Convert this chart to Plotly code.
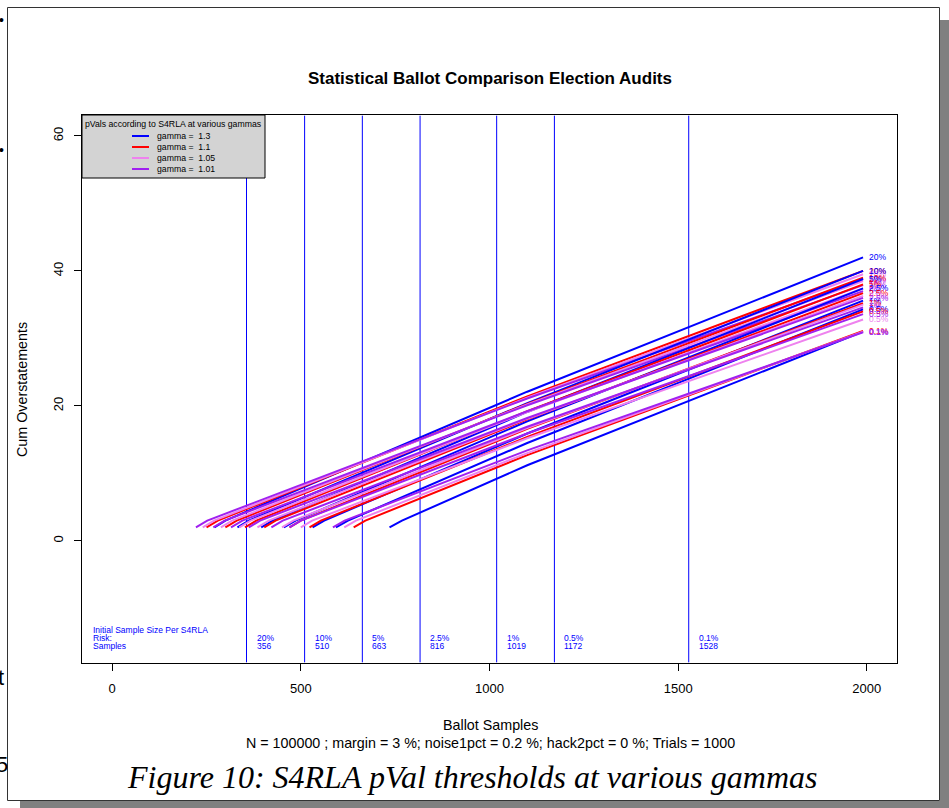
import plotly.graph_objects as go

# ---------------- data ----------------
risk_labels = ["20%", "10%", "5%", "2.5%", "1%", "0.5%", "0.1%"]
initial_samples = [356, 510, 663, 816, 1019, 1172, 1528]

gamma_labels = ["1.3", "1.1", "1.05", "1.01"]
gamma_colors = ["#0000FF", "#FF0000", "#EE82EE", "#A020F0"]

# x where each curve starts (2 overstatements), x at 3 overstatements,
# y at 1100 samples, y at the end (1990 samples)
start_x_g130 = [271, 332, 395, 455, 531, 593, 735]
hook_x_g130 = [300, 362, 425, 486, 562, 625, 768]
mid_y_g130 = [22.1, 20.4, 19.1, 17.7, 15.9, 14.5, 11.2]
end_y_g130 = [42.0, 40.0, 38.8, 37.4, 35.6, 34.3, 31.0]

start_x_g110 = [250, 300, 352, 403, 470, 523, 640]
hook_x_g110 = [280, 330, 382, 433, 500, 553, 671]
mid_y_g110 = [21.4, 20.3, 19.2, 18.0, 16.6, 15.4, 12.7]
end_y_g110 = [40.0, 39.0, 38.0, 36.7, 35.2, 34.0, 31.1]

start_x_g105 = [240, 288, 337, 385, 450, 500, 615]
hook_x_g105 = [270, 318, 367, 415, 480, 530, 646]
mid_y_g105 = [21.2, 20.2, 19.1, 18.1, 16.7, 15.2, 13.0]
end_y_g105 = [39.5, 38.5, 37.4, 36.3, 35.0, 32.8, 31.0]

start_x_g101 = [222, 268, 315, 362, 422, 470, 585]
hook_x_g101 = [252, 298, 345, 392, 452, 500, 616]
mid_y_g101 = [21.1, 20.1, 19.2, 18.2, 16.9, 15.9, 13.4]
end_y_g101 = [38.8, 37.9, 37.0, 36.0, 34.6, 33.6, 30.9]

start_y = 2
hook_y = 3
mid_x = 1100
end_x = 1990

x_ticks = [0, 500, 1000, 1500, 2000]
y_ticks = [0, 20, 40, 60]

series = [
    (start_x_g130, hook_x_g130, mid_y_g130, end_y_g130),
    (start_x_g110, hook_x_g110, mid_y_g110, end_y_g110),
    (start_x_g105, hook_x_g105, mid_y_g105, end_y_g105),
    (start_x_g101, hook_x_g101, mid_y_g101, end_y_g101),
]

# ---------------- layout helpers ----------------
W, H = 949, 808
PL, PR, PT, PB = 82, 897, 115, 663


def px(x):
    return (x - PL) / (PR - PL)


def py(y):
    return (PB - y) / (PB - PT)


FONT = "Liberation Sans, Arial, sans-serif"

fig = go.Figure()

# vertical initial-sample-size lines
for s in initial_samples:
    fig.add_trace(go.Scatter(x=[s, s], y=[-18, 63], mode="lines",
                             line=dict(color="#0000FF", width=1),
                             hoverinfo="skip", showlegend=False))

# threshold curves
for ri in range(len(risk_labels)):
    for gi, (sx, hx, my, ey) in enumerate(series):
        fig.add_trace(go.Scatter(
            x=[sx[ri], hx[ri], mid_x, end_x],
            y=[start_y, hook_y, my[ri], ey[ri]],
            mode="lines", line=dict(color=gamma_colors[gi], width=2),
            showlegend=False, hoverinfo="skip"))

annotations = []
# end labels
for ri in range(len(risk_labels)):
    for gi, (sx, hx, my, ey) in enumerate(series):
        annotations.append(dict(x=end_x, y=ey[ri], xref="x", yref="y",
                                text=risk_labels[ri], showarrow=False,
                                xanchor="left", yanchor="middle", xshift=4,
                                font=dict(family=FONT, size=8.5, color=gamma_colors[gi])))

# bottom labels
BLUE = "#0000FF"
BFS = 8.5
for txt, yy in [("Initial Sample Size Per S4RLA", 630), ("Risk:", 638), ("Samples", 646)]:
    annotations.append(dict(x=px(91), y=py(yy), xref="paper", yref="paper", text=txt,
                            showarrow=False, xanchor="left", yanchor="middle",
                            font=dict(family=FONT, size=BFS, color=BLUE)))
for s, r in zip(initial_samples, risk_labels):
    annotations.append(dict(x=s, y=py(638), xref="x", yref="paper", text=r,
                            showarrow=False, xanchor="left", yanchor="middle", xshift=8,
                            font=dict(family=FONT, size=BFS, color=BLUE)))
    annotations.append(dict(x=s, y=py(646), xref="x", yref="paper", text=str(s),
                            showarrow=False, xanchor="left", yanchor="middle", xshift=8,
                            font=dict(family=FONT, size=BFS, color=BLUE)))

# legend
shapes = []
shapes.append(dict(type="rect", xref="paper", yref="paper", x0=px(82), x1=px(265),
                   y0=py(178), y1=py(115), fillcolor="#D3D3D3",
                   line=dict(color="black", width=1), layer="above"))
annotations.append(dict(x=px(173), y=py(124), xref="paper", yref="paper",
                        text="pVals according to S4RLA at various gammas", showarrow=False,
                        xanchor="center", yanchor="middle",
                        font=dict(family=FONT, size=8.7, color="black")))
for gi, (gl, gc) in enumerate(zip(gamma_labels, gamma_colors)):
    yy = [136, 147, 158, 169][gi]
    shapes.append(dict(type="line", xref="paper", yref="paper", x0=px(132), x1=px(149),
                       y0=py(yy), y1=py(yy), line=dict(color=gc, width=2), layer="above"))
    annotations.append(dict(x=px(155), y=py(yy), xref="paper", yref="paper",
                            text="gamma =  " + gl, showarrow=False,
                            xanchor="left", yanchor="middle",
                            font=dict(family=FONT, size=8.7, color="black")))

# titles
annotations.append(dict(x=px(490), y=py(79), xref="paper", yref="paper",
                        text="<b>Statistical Ballot Comparison Election Audits</b>",
                        showarrow=False, xanchor="center", yanchor="middle",
                        font=dict(family=FONT, size=17, color="black")))
annotations.append(dict(x=px(490), y=py(725), xref="paper", yref="paper",
                        text="Ballot Samples", showarrow=False,
                        xanchor="center", yanchor="middle",
                        font=dict(family=FONT, size=14.3, color="black")))
annotations.append(dict(x=px(490), y=py(743), xref="paper", yref="paper",
                        text="N = 100000 ; margin = 3 %; noise1pct = 0.2 %; hack2pct = 0 %; Trials = 1000",
                        showarrow=False, xanchor="center", yanchor="middle",
                        font=dict(family=FONT, size=14.3, color="black")))
annotations.append(dict(x=px(22), y=py(389), xref="paper", yref="paper",
                        text="Cum Overstatements", showarrow=False, textangle=-90,
                        xanchor="center", yanchor="middle",
                        font=dict(family=FONT, size=14.3, color="black")))
annotations.append(dict(x=px(472), y=py(777), xref="paper", yref="paper",
                        text="<i>Figure 10: S4RLA pVal thresholds at various gammas</i>",
                        showarrow=False, xanchor="center", yanchor="middle",
                        font=dict(family="Liberation Serif, Times New Roman, serif",
                                  size=32, color="black")))

# page frame and shadow
shapes.append(dict(type="rect", xref="paper", yref="paper", x0=px(940), x1=px(949),
                   y0=py(808), y1=py(20), fillcolor="#808080", line=dict(width=0), layer="below"))
shapes.append(dict(type="rect", xref="paper", yref="paper", x0=px(20), x1=px(949),
                   y0=py(808), y1=py(801), fillcolor="#808080", line=dict(width=0), layer="below"))
shapes.append(dict(type="rect", xref="paper", yref="paper", x0=px(7.5), x1=px(939.5),
                   y0=py(800.5), y1=py(7.5), fillcolor="rgba(0,0,0,0)",
                   line=dict(color="#333333", width=1), layer="below"))

# cut-off characters from the neighbouring page at the left edge
for ch, yy, fs, xx in [("•", 20, 14, -3), ("•", 150, 14, -3), ("t", 677, 22, -4), ("5", 764, 22, -6)]:
    annotations.append(dict(x=px(xx), y=py(yy), xref="paper", yref="paper", text=ch,
                            showarrow=False, xanchor="left", yanchor="middle",
                            font=dict(family="Liberation Sans, sans-serif", size=fs, color="black")))

fig.update_layout(
    width=W, height=H,
    margin=dict(l=PL, r=W - PR, t=PT, b=H - PB, pad=0),
    paper_bgcolor="white", plot_bgcolor="white",
    showlegend=False,
    shapes=shapes, annotations=annotations,
    xaxis=dict(range=[-80, 2080], tickvals=x_ticks, ticks="outside", ticklen=7,
               tickcolor="black", showgrid=False, zeroline=False, showline=True,
               linecolor="black", linewidth=1, mirror=True,
               tickfont=dict(family=FONT, size=13, color="black"), ticklabelstandoff=6),
    yaxis=dict(range=[-18.1, 63.1], tickvals=y_ticks, ticks="outside", ticklen=7,
               tickcolor="black", showgrid=False, zeroline=False, showline=True,
               linecolor="black", linewidth=1, mirror=True, tickangle=-90,
               tickfont=dict(family=FONT, size=13, color="black"), ticklabelstandoff=6),
)

fig.write_html("out.html")
